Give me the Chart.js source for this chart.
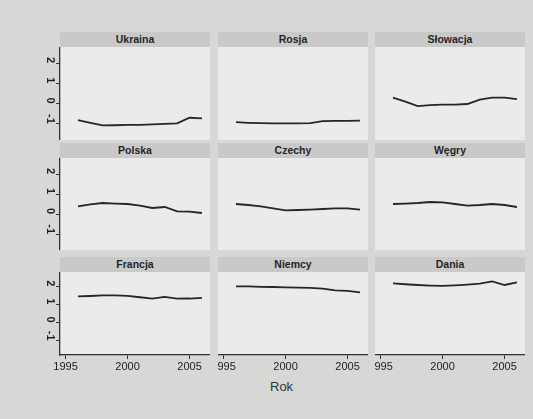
<!DOCTYPE html>
<html>
<head>
<meta charset="utf-8">
<script src="https://cdn.jsdelivr.net/npm/chart.js@4.4.1/dist/chart.umd.min.js"></script>
<style>
  html, body { margin: 0; padding: 0; }
  body { width: 533px; height: 419px; background: #d7d7d6; position: relative; overflow: hidden;
         font-family: "Liberation Sans", Arial, sans-serif; }
  .panel { position: absolute; background: #ebebeb; }
  .strip { position: absolute; background: #c9c9c9; color: #262626; font-size: 10.5px; font-weight: bold;
           text-align: center; line-height: 15px; height: 15px; }
  canvas { position: absolute; }
  #xlab { position: absolute; left: 270px; top: 379px; font-size: 13px; color: #333; }
</style>
</head>
<body>
<div id="xlab">Rok</div>
<script>
// data: lattice layout, rows top to bottom
var years = [1996, 1997, 1998, 1999, 2000, 2001, 2002, 2003, 2004, 2005, 2006];
var xTicks = [1995, 2000, 2005];
var yTicks = [-1, 0, 1, 2];

var countries = [
    ['Ukraina', 'Rosja', 'Słowacja'],
    ['Polska', 'Czechy', 'Węgry'],
    ['Francja', 'Niemcy', 'Dania']
];

var Ukraina  = [-0.82, -0.95, -1.08, -1.07, -1.05, -1.05, -1.03, -1.0, -0.98, -0.7, -0.73];
var Rosja    = [-0.92, -0.95, -0.97, -0.98, -0.98, -0.98, -0.97, -0.87, -0.85, -0.85, -0.84];
var Slowacja = [0.3, 0.1, -0.12, -0.08, -0.05, -0.05, -0.02, 0.2, 0.3, 0.3, 0.22];
var Polska   = [0.38, 0.48, 0.55, 0.52, 0.5, 0.42, 0.3, 0.35, 0.13, 0.12, 0.05];
var Czechy   = [0.5, 0.45, 0.38, 0.28, 0.18, 0.2, 0.22, 0.25, 0.28, 0.28, 0.22];
var Wegry    = [0.5, 0.52, 0.55, 0.6, 0.58, 0.5, 0.42, 0.45, 0.5, 0.45, 0.35];
var Francja  = [1.45, 1.47, 1.5, 1.5, 1.48, 1.4, 1.33, 1.42, 1.32, 1.33, 1.37];
var Niemcy   = [2.0, 2.0, 1.98, 1.97, 1.95, 1.93, 1.92, 1.88, 1.78, 1.75, 1.67];
var Dania    = [2.17, 2.12, 2.08, 2.05, 2.03, 2.06, 2.1, 2.15, 2.28, 2.08, 2.23];

var values = [
    [Ukraina, Rosja, Slowacja],
    [Polska, Czechy, Wegry],
    [Francja, Niemcy, Dania]
];

// panel geometry
var colLeft = [60, 218, 375];
var colWidth = 150;
var rowTop = [47, 158, 272];
var rowHeight = [93, 92, 83];
var stripH = 15;
var yAxisW = 40;
var xAxisH = 25;

function makePanel(r, c) {
    var left = colLeft[c], top = rowTop[r], h = rowHeight[r];

    var bg = document.createElement('div');
    bg.className = 'panel';
    bg.style.left = left + 'px';
    bg.style.top = top + 'px';
    bg.style.width = colWidth + 'px';
    bg.style.height = h + 'px';
    document.body.appendChild(bg);

    var strip = document.createElement('div');
    strip.className = 'strip';
    strip.style.left = left + 'px';
    strip.style.top = (top - stripH) + 'px';
    strip.style.width = colWidth + 'px';
    strip.textContent = countries[r][c];
    document.body.appendChild(strip);

    var showY = c === 0;
    var showX = r === 2;
    var cv = document.createElement('canvas');
    var cw = colWidth + (showY ? yAxisW : 0);
    var ch = h + (showX ? xAxisH : 0);
    cv.width = cw;
    cv.height = ch;
    cv.style.width = cw + 'px';
    cv.style.height = ch + 'px';
    cv.style.left = (left - (showY ? yAxisW : 0)) + 'px';
    cv.style.top = top + 'px';
    document.body.appendChild(cv);

    var axisColor = '#333';
    new Chart(cv.getContext('2d'), {
        type: 'line',
        data: {
            datasets: [{
                data: values[r][c].map(function (v, i) { return { x: years[i], y: v }; }),
                borderColor: '#262626',
                borderWidth: 1.8,
                pointRadius: 0,
                tension: 0,
                fill: false
            }]
        },
        options: {
            responsive: false,
            animation: false,
            layout: { padding: 0 },
            plugins: { legend: { display: false }, tooltip: { enabled: false } },
            scales: {
                x: {
                    type: 'linear',
                    min: 1994.55,
                    max: 2006.65,
                    display: showX,
                    afterFit: function (s) {
                        if (showX) s.height = xAxisH;
                        s.paddingLeft = 0; s.paddingRight = 0;
                    },
                    afterBuildTicks: function (s) { s.ticks = xTicks.map(function (v) { return { value: v }; }); },
                    grid: { drawOnChartArea: false, drawTicks: true, tickLength: 4, color: axisColor },
                    border: { display: true, color: axisColor, width: 1.3 },
                    ticks: { color: '#222', font: { size: 11, family: 'Liberation Sans' }, padding: 1,
                             maxRotation: 0, minRotation: 0,
                             callback: function (v) { return String(v); } }
                },
                y: {
                    min: -1.8,
                    max: 2.8,
                    display: showY,
                    afterFit: function (s) {
                        if (showY) s.width = yAxisW;
                        s.paddingTop = 0; s.paddingBottom = 0;
                    },
                    afterBuildTicks: function (s) { s.ticks = yTicks.map(function (v) { return { value: v }; }); },
                    grid: { drawOnChartArea: false, drawTicks: true, tickLength: 4, color: axisColor },
                    border: { display: true, color: axisColor, width: 1.3 },
                    ticks: { color: '#222', font: { size: 11, weight: 'bold', family: 'Liberation Sans' }, padding: 6,
                             minRotation: -90, maxRotation: -90,
                             callback: function (v) { return String(v); } }
                }
            }
        }
    });
}

for (var r = 0; r < 3; r++) {
    for (var c = 0; c < 3; c++) {
        makePanel(r, c);
    }
}
</script>
</body>
</html>
